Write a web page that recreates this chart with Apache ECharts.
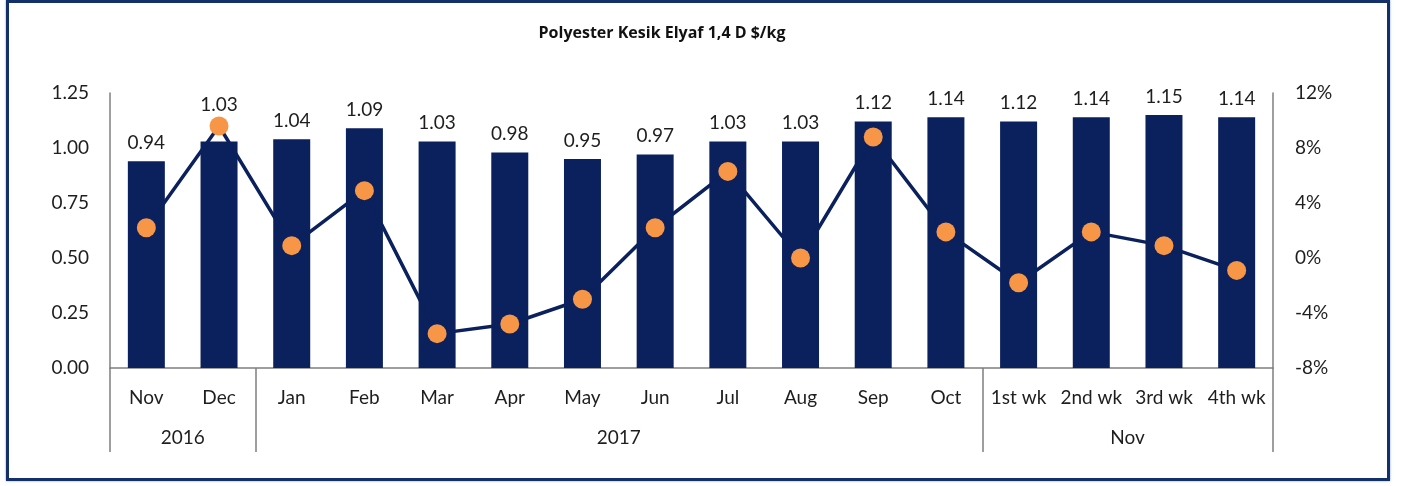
<!DOCTYPE html>
<html>
<head>
<meta charset="utf-8">
<title>Polyester Kesik Elyaf 1,4 D $/kg</title>
<script src="https://cdn.jsdelivr.net/npm/echarts@6/dist/echarts.min.js"></script>
<style>
  html, body { margin: 0; padding: 0; background: #fff; }
  .com-container { position: relative; width: 1402px; height: 486px; }
  .frame {
    position: absolute; left: 6px; top: 0; width: 1378px; height: 475px;
    border: 3px solid #14306b; box-shadow: 0 0 2px #7f9ccc;
  }
  .com-chart { position: absolute; left: 0; top: 0; width: 1402px; height: 486px; }
</style>
</head>
<body>
<div class="com-container">
  <div class="frame"></div>
  <div class="com-chart" id="main"></div>
</div>
<script>
// category labels (months / weeks)
const categories = ['Nov', 'Dec', 'Jan', 'Feb', 'Mar', 'Apr', 'May', 'Jun', 'Jul', 'Aug', 'Sep', 'Oct',
  '1st wk', '2nd wk', '3rd wk', '4th wk']
// group labels, placed on the 17 category boundaries
const groupLabels = ['', '2016', '', '', '', '', '', '2017', '', '', '', '', '', '', 'Nov', '', '']
// boundaries where a group separator is drawn
const groupBreaks = [0, 2, 12, 16]
// price $/kg (bars)
const prices = [0.94, 1.03, 1.04, 1.09, 1.03, 0.98, 0.95, 0.97, 1.03, 1.03, 1.12, 1.14, 1.12, 1.14, 1.15, 1.14]
// change % (line)
const changes = [2.2, 9.6, 0.9, 4.9, -5.5, -4.8, -3.0, 2.2, 6.3, 0.0, 8.8, 1.9, -1.8, 1.9, 0.9, -0.9]
// axis ticks
const leftTicks = { min: 0, max: 1.25, interval: 0.25 }
const rightTicks = { min: -8, max: 12, interval: 4 }

const navy = '#0b215e'
const orange = '#f79646'
const textColor = '#1e1e1e'
const axisGray = '#7f7f7f'
const font = 'Lato'

const chartInstane = echarts.init(document.getElementById('main'))

// Dec label is lifted above the dot
const barData = prices.map((v, i) => {
  if (i === 1) return { value: v, label: { distance: 27 } }
  return v
})

const option = {
  animation: false,
  title: {
    text: 'Polyester Kesik Elyaf 1,4 D $/kg',
    left: 657,
    textAlign: 'center',
    top: 20,
    textStyle: { fontFamily: 'Open Sans', fontWeight: 'bold', fontSize: 16, color: '#111' }
  },
  grid: { left: 110, right: 129, top: 93, bottom: 118 },
  xAxis: [
    {
      type: 'category',
      data: categories,
      axisLine: { onZero: false, lineStyle: { color: axisGray, width: 1.5 } },
      axisTick: { show: false },
      axisLabel: { interval: 0, margin: 20, fontFamily: font, fontSize: 19, color: textColor }
    },
    {
      type: 'category',
      position: 'bottom',
      offset: 0,
      boundaryGap: false,
      data: groupLabels,
      axisLine: { show: false, onZero: false },
      axisTick: {
        show: true,
        length: 84,
        interval: (idx) => groupBreaks.includes(idx),
        lineStyle: { color: axisGray, width: 1.5 }
      },
      axisLabel: { interval: 0, margin: 60, fontFamily: font, fontSize: 19, color: textColor }
    }
  ],
  yAxis: [
    {
      type: 'value',
      min: leftTicks.min,
      max: leftTicks.max,
      interval: leftTicks.interval,
      splitLine: { show: false },
      axisLine: { show: true, lineStyle: { color: axisGray, width: 1.5 } },
      axisTick: { show: false },
      axisLabel: {
        margin: 21,
        formatter: (v) => v.toFixed(2),
        fontFamily: font, fontSize: 19, color: textColor
      }
    },
    {
      type: 'value',
      min: rightTicks.min,
      max: rightTicks.max,
      interval: rightTicks.interval,
      splitLine: { show: false },
      axisLine: { show: true, lineStyle: { color: axisGray, width: 1.5 } },
      axisTick: { show: false },
      axisLabel: {
        margin: 22,
        formatter: '{value}%',
        fontFamily: font, fontSize: 19, color: textColor
      }
    }
  ],
  series: [
    {
      name: 'price',
      type: 'bar',
      data: barData,
      barWidth: 37,
      itemStyle: { color: navy },
      label: {
        show: true,
        position: 'top',
        distance: 9,
        formatter: (p) => p.value.toFixed(2),
        fontFamily: font, fontSize: 19, color: textColor
      }
    },
    {
      name: 'change',
      type: 'line',
      yAxisIndex: 1,
      data: changes,
      symbol: 'circle',
      symbolSize: 19,
      lineStyle: { color: navy, width: 3.5 },
      itemStyle: { color: orange },
      z: 5
    }
  ]
}
chartInstane.setOption(option)
</script>
</body>
</html>
